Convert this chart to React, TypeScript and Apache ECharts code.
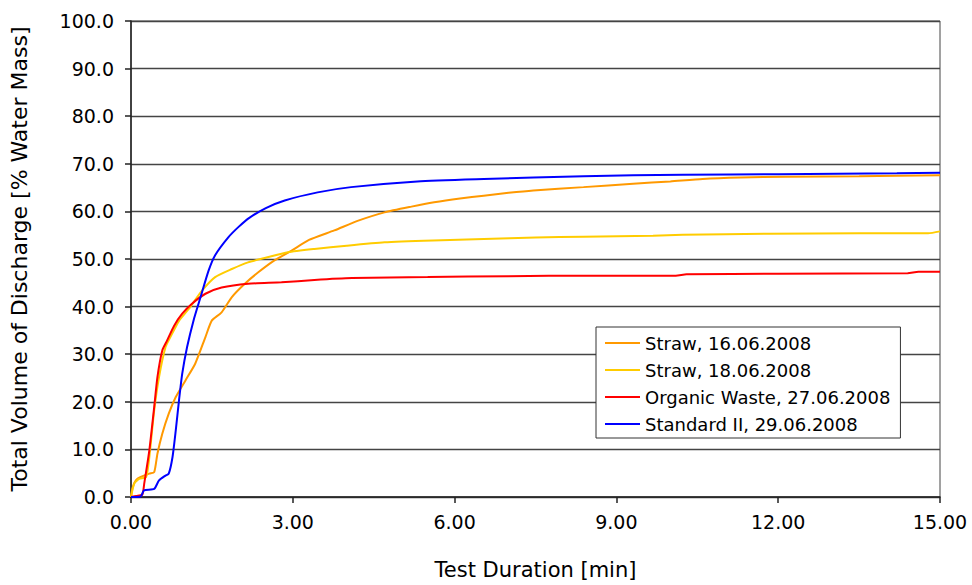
import React, { useEffect, useRef } from "react";
import * as echarts from "echarts";

const seriesNames = [
  "Straw, 16.06.2008",
  "Straw, 18.06.2008",
  "Organic Waste, 27.06.2008",
  "Standard II, 29.06.2008",
];
const seriesColors = ["#FF9900", "#FFCC00", "#FF0000", "#0000FF"];

const straw1606: [number, number][] = [
  [0, 0], [0.03, 2], [0.09, 3.5], [0.18, 4.2], [0.34, 4.9], [0.43, 5.2], [0.49, 9.1],
  [0.58, 13.3], [0.7, 17.5], [0.83, 21], [1.01, 24.5], [1.19, 28], [1.38, 33.6], [1.5, 37.1],
  [1.68, 38.8], [1.87, 42], [2.11, 44.8], [2.36, 47.2], [2.66, 49.7], [2.97, 51.7], [3.3, 54],
  [3.77, 56], [4.2, 58], [4.7, 59.8], [5.2, 61], [5.62, 61.9], [6.1, 62.7], [6.54, 63.3],
  [7.0, 63.9], [7.46, 64.4], [8.39, 65.1], [9.31, 65.8], [10.0, 66.3], [10.6, 66.8],
  [11.3, 67.1], [12.14, 67.3], [13.5, 67.4], [15, 67.6],
];
const straw1806: [number, number][] = [
  [0, 0], [0.06, 2.8], [0.15, 3.8], [0.28, 4.2], [0.34, 8.4], [0.43, 18.2], [0.52, 25.2],
  [0.64, 31.5], [0.73, 33.6], [0.89, 37], [1.07, 39.5], [1.32, 43.4], [1.56, 46.2],
  [1.87, 47.9], [2.17, 49.3], [2.48, 50.2], [2.91, 51.4], [3.4, 52.1], [4.0, 52.8],
  [4.7, 53.5], [5.6, 53.9], [6.54, 54.2], [7.5, 54.5], [8.39, 54.7], [9.68, 54.9],
  [10.23, 55.1], [11.83, 55.3], [13.5, 55.4], [14.78, 55.4], [15, 55.8],
];
const organicWaste: [number, number][] = [
  [0, 0], [0.1, 0.2], [0.21, 0.5], [0.245, 2.8], [0.34, 9.8], [0.43, 18.9], [0.49, 25.2],
  [0.58, 30.8], [0.67, 32.9], [0.8, 36], [0.95, 38.5], [1.13, 40.6], [1.38, 42.7],
  [1.68, 44], [2.17, 44.8], [2.79, 45.1], [3.4, 45.6], [4.1, 46.0], [5.5, 46.2], [7.0, 46.4],
  [8.5, 46.5], [10.1, 46.5], [10.3, 46.8], [12, 46.9], [14.4, 47.0], [14.6, 47.3], [15, 47.3],
];
const standardII: [number, number][] = [
  [0, 0], [0.18, 0.1], [0.24, 1.4], [0.43, 1.7], [0.52, 3.5], [0.64, 4.5], [0.7, 4.9],
  [0.77, 8.4], [0.83, 14], [0.89, 20.3], [0.95, 25.9], [1.04, 31.5], [1.16, 37.1],
  [1.29, 42], [1.44, 47.6], [1.56, 50.8], [1.8, 54.5], [2.0, 56.8], [2.2, 58.7], [2.5, 60.7],
  [2.85, 62.3], [3.46, 64.0], [4.08, 65.1], [5.31, 66.3], [6.54, 66.8], [8.39, 67.4],
  [10.23, 67.7], [12, 67.8], [14.2, 68.0], [15, 68.1],
];
const seriesData = [straw1606, straw1806, organicWaste, standardII];

const xTitle = "Test Duration [min]";
const yTitle = "Total Volume of Discharge [% Water Mass]";

const FONT = "DejaVu Sans";

export default function App() {
  const ref = useRef<HTMLDivElement>(null);
  useEffect(() => {
    if (!ref.current) return;
    const chart = echarts.init(ref.current, undefined, { renderer: "svg" });
    chart.setOption({
      animation: false,
      backgroundColor: "#ffffff",
      textStyle: { fontFamily: FONT, color: "#000" },
      grid: {
        left: 125,
        right: 32,
        top: 21,
        bottom: 88,
        show: true,
        borderColor: "#444",
        borderWidth: 1,
        backgroundColor: "transparent",
      },
      legend: {
        data: seriesNames,
        orient: "vertical",
        left: 596,
        top: 327,
        icon: "rect",
        itemWidth: 35,
        itemHeight: 2,
        itemGap: 9,
        padding: [7, 10, 5, 9],
        borderColor: "#333",
        borderWidth: 1,
        backgroundColor: "#fff",
        textStyle: { fontFamily: FONT, fontSize: 18, color: "#000", lineHeight: 18 },
      },
      xAxis: {
        type: "value",
        min: 0,
        max: 15,
        interval: 3,
        name: xTitle,
        nameLocation: "middle",
        nameGap: 62,
        nameTextStyle: { fontFamily: FONT, fontSize: 21, color: "#000" },
        axisLine: { show: true, lineStyle: { color: "#222", width: 1.5 } },
        axisTick: { show: true, length: 6, lineStyle: { color: "#222", width: 1.5 } },
        axisLabel: {
          fontFamily: FONT,
          fontSize: 19,
          color: "#000",
          margin: 15,
          formatter: (v: number) => v.toFixed(2),
        },
        splitLine: { show: false },
      },
      yAxis: {
        type: "value",
        min: 0,
        max: 100,
        interval: 10,
        name: yTitle,
        nameLocation: "middle",
        nameGap: 101,
        nameTextStyle: { fontFamily: FONT, fontSize: 22, color: "#000" },
        axisLine: { show: true, lineStyle: { color: "#222", width: 1.5 } },
        axisTick: { show: true, length: 6, lineStyle: { color: "#222", width: 1.5 } },
        axisLabel: {
          fontFamily: FONT,
          fontSize: 19,
          color: "#000",
          margin: 17,
          formatter: (v: number) => v.toFixed(1),
        },
        splitLine: { show: true, lineStyle: { color: "#444", width: 1.3 } },
      },
      series: seriesNames.map((name, i) => ({
        name,
        type: "line",
        data: seriesData[i],
        showSymbol: false,
        symbol: "none",
        smooth: 0.2,
        lineStyle: { color: seriesColors[i], width: 2 },
        itemStyle: { color: seriesColors[i] },
      })),
    });
    return () => chart.dispose();
  }, []);
  return (
    <div
      ref={ref}
      style={{ position: "fixed", left: 0, top: 0, width: 972, height: 585 }}
    />
  );
}
